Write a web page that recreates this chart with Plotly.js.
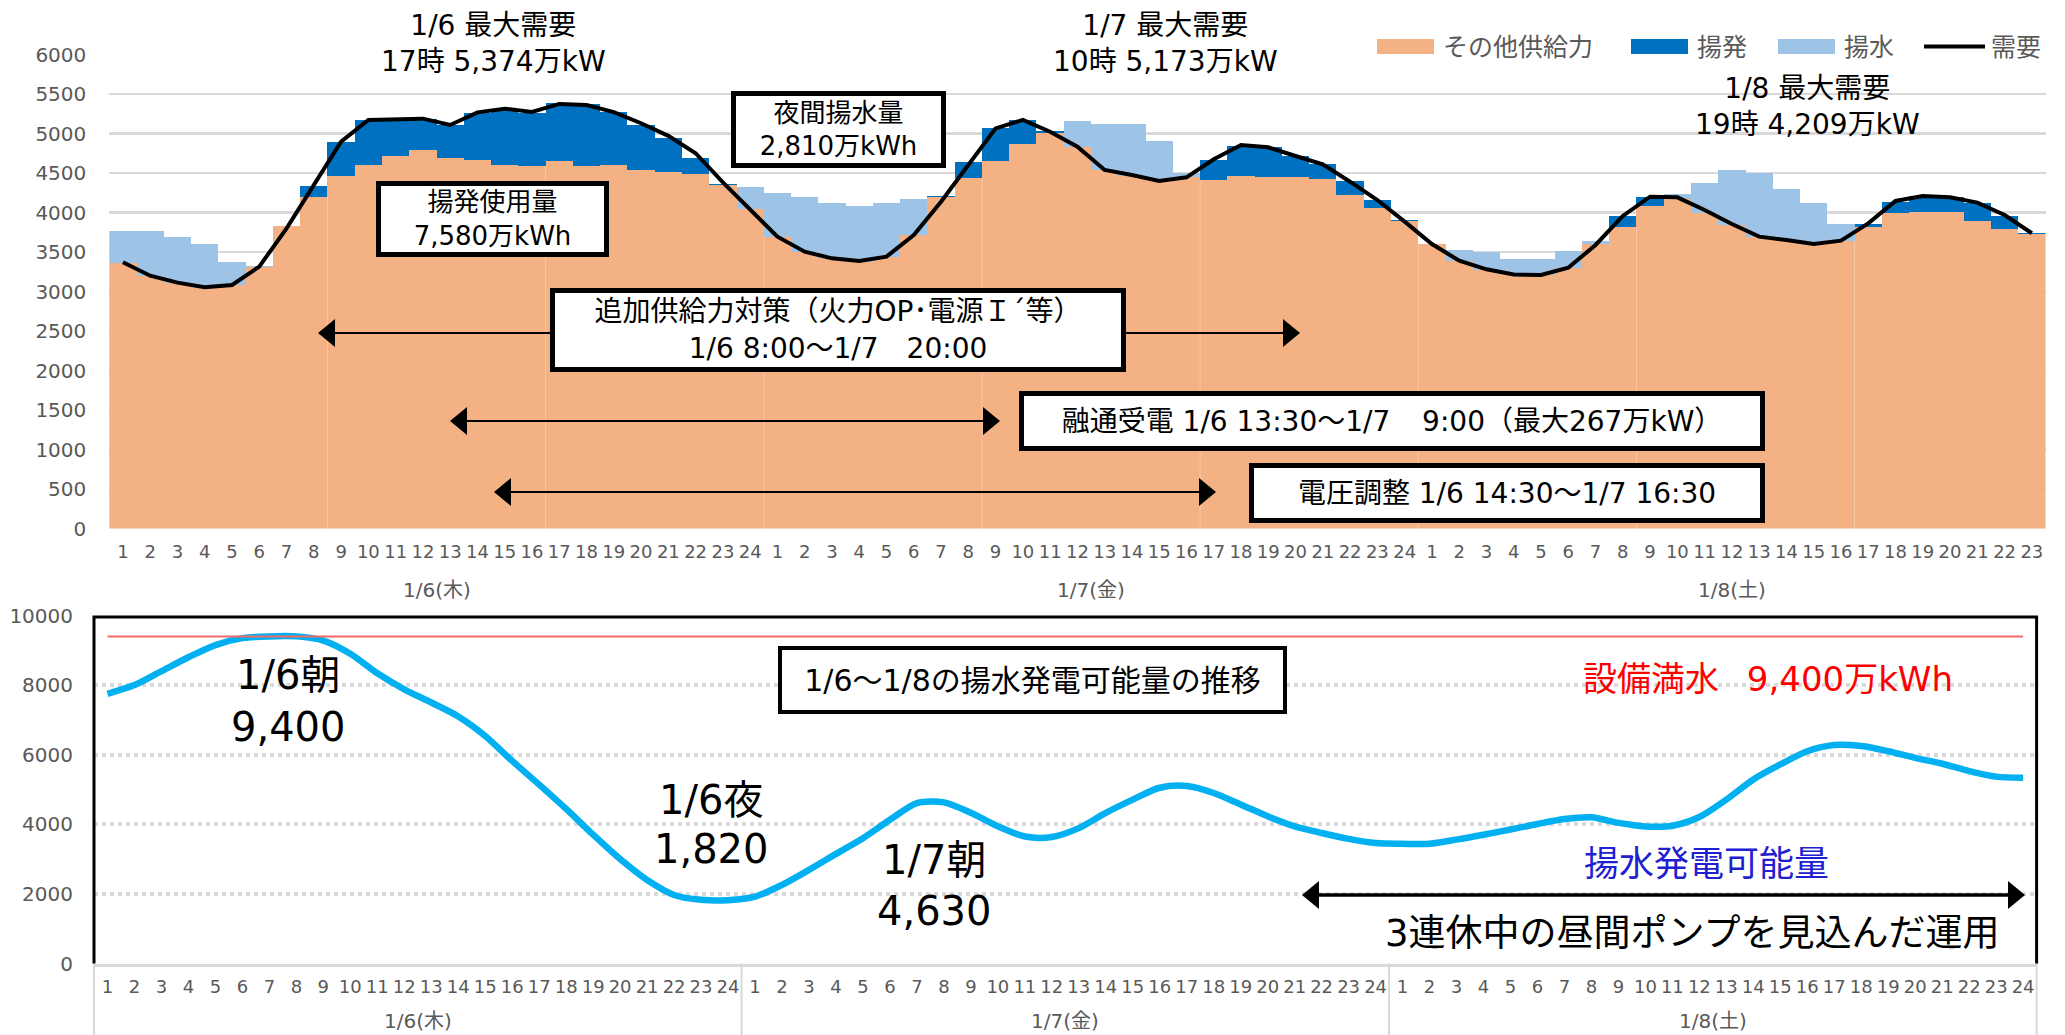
<!DOCTYPE html>
<html>
<head>
<meta charset="utf-8">
<script src="https://cdn.plot.ly/plotly-3.0.1.min.js"></script>
<style>
  html, body { margin: 0; padding: 0; background: #fff; }
  #chart { width: 2065px; height: 1035px; }
</style>
</head>
<body>
<div id="chart"></div>
<script>
// ---- categories ----
const dayLabels = ['1/6(木)', '1/7(金)', '1/8(土)'];
const hourLabels = ['1','2','3','4','5','6','7','8','9','10','11','12','13','14','15','16','17','18','19','20','21','22','23','24'];
const hoursPerDayTop = [24, 24, 23];
const hoursPerDayBottom = [24, 24, 24];

// ---- supply / demand (万kW), hourly 1/6 1時 … 1/8 23時 ----
const otherSupply = [
  3365, 3190, 3105, 3045, 3080, 3315, 3825, 4200, 4460, 4605, 4710, 4795, 4695, 4665, 4600, 4595, 4655, 4595, 4600, 4535, 4515, 4490, 4350, 4040,
  3686, 3504, 3420, 3378, 3441, 3715, 4200, 4441, 4656, 4867, 5011, 4833, 4538, 4462, 4411, 4445, 4411, 4462, 4454, 4445, 4428, 4222, 4061, 3893,
  3597, 3390, 3272, 3222, 3209, 3295, 3601, 3812, 4082, 4167, 3998, 3842, 3686, 3652, 3610, 3644, 3812, 3990, 4002, 4002, 3893, 3787, 3724
];
const pumpGeneration = [
  0, 0, 0, 0, 0, 0, 10, 140, 437, 560, 470, 393, 413, 590, 706, 669, 727, 779, 670, 575, 425, 196, 10, 0,
  0, 0, 0, 0, 0, 0, 13, 203, 409, 304, 15, 0, 0, 0, 0, 0, 254, 380, 371, 274, 186, 177, 97, 12,
  0, 0, 0, 0, 0, 0, 0, 148, 110, 0, 0, 0, 0, 0, 0, 0, 38, 147, 211, 190, 223, 173, 21
];
const pumpingLoad = [
  400, 580, 590, 552, 289, 10, 0, 0, 0, 0, 0, 0, 0, 0, 0, 0, 0, 0, 0, 0, 0, 0, 0, 287,
  557, 688, 705, 709, 675, 452, 0, 0, 0, 0, 0, 327, 582, 658, 498, 51, 0, 0, 0, 0, 0, 0, 0, 0,
  0, 136, 228, 185, 198, 218, 43, 0, 0, 63, 371, 696, 810, 650, 515, 206, 0, 0, 0, 0, 0, 0, 0
];
const demand = [
  3370, 3200, 3112, 3053, 3082, 3315, 3800, 4350, 4897, 5171, 5179, 5188, 5108, 5268, 5314, 5272, 5374, 5360, 5270, 5130, 4970, 4750, 4380, 4035,
  3694, 3504, 3420, 3386, 3441, 3715, 4137, 4601, 5065, 5173, 5023, 4833, 4538, 4475, 4399, 4445, 4673, 4854, 4825, 4715, 4610, 4390, 4158, 3884,
  3601, 3390, 3281, 3215, 3209, 3300, 3589, 3956, 4200, 4192, 4032, 3855, 3694, 3652, 3601, 3644, 3863, 4146, 4209, 4192, 4125, 3968, 3737
];

// ---- pumped-storage generable energy (万kWh), 1/6 1時 … 1/8 24時 ----
const pumpedStorageEnergy = [
  7750, 8000, 8400, 8800, 9150, 9350, 9400, 9400, 9280, 8900, 8340, 7880, 7500, 7100, 6540, 5820, 5140, 4440, 3700, 3000, 2400, 1970, 1830, 1820,
  1920, 2260, 2690, 3150, 3600, 4130, 4610, 4630, 4330, 3940, 3650, 3635, 3890, 4330, 4710, 5050, 5100, 4900, 4570, 4230, 3940, 3750, 3580, 3460,
  3440, 3440, 3560, 3700, 3850, 4010, 4150, 4200, 4040, 3940, 3960, 4210, 4710, 5290, 5720, 6100, 6280, 6250, 6100, 5910, 5740, 5530, 5370, 5340
];
const capacityFull = 9400;

// ---- helpers ----
const W = 2065, H = 1035;
const px = x => x / W;
const py = y => 1 - y / H;
const FONT = '"DejaVu Sans", "Noto Sans CJK JP", sans-serif';
const GRAY = '#595959';

// one category key per day/hour; the hour is shown as the tick text
function buildCats(counts) {
  const keys = [], text = [];
  counts.forEach((n, i) => { for (let j = 0; j < n; j++) { keys.push(dayLabels[i] + ' ' + hourLabels[j]); text.push(hourLabels[j]); } });
  return { keys, text };
}
const xTop = buildCats(hoursPerDayTop);
const xBottom = buildCats(hoursPerDayBottom);

// plot-area geometry (pixels)
const TOP = { x0: 109.3, x1: 2045.5, y0: 528.5, y1: 54.5 };
const BOT = { x0: 94, x1: 2036.6, y0: 963.5, y1: 615.5 };

const traces = [
  { type: 'bar', name: 'その他供給力', x: xTop.keys, y: otherSupply, xaxis: 'x', yaxis: 'y',
    marker: { color: '#F4B183', line: { width: 0 } }, hoverinfo: 'y', showlegend: false },
  { type: 'bar', name: '揚発', x: xTop.keys, y: pumpGeneration, xaxis: 'x', yaxis: 'y',
    marker: { color: '#0070C0', line: { width: 0 } }, hoverinfo: 'y', showlegend: false },
  { type: 'bar', name: '揚水', x: xTop.keys, y: pumpingLoad, xaxis: 'x', yaxis: 'y',
    marker: { color: '#9DC3E6', line: { width: 0 } }, hoverinfo: 'y', showlegend: false },
  { type: 'scatter', mode: 'lines', name: '需要', x: xTop.keys, y: demand, xaxis: 'x', yaxis: 'y',
    line: { color: '#000000', width: 4 }, showlegend: false },
  { type: 'scatter', mode: 'lines', name: '揚水発電可能量', x: xBottom.keys, y: pumpedStorageEnergy, xaxis: 'x2', yaxis: 'y2',
    line: { color: '#00B0F0', width: 6.5, shape: 'spline', smoothing: 0.8 }, showlegend: false },
  { type: 'scatter', mode: 'lines', name: '設備満水',
    x: [xBottom.keys[0], xBottom.keys[xBottom.keys.length - 1]], y: [capacityFull, capacityFull],
    xaxis: 'x2', yaxis: 'y2', line: { color: '#F26B6B', width: 2 }, showlegend: false }
];

// ---- shapes: legend swatches, arrows, frame, separators ----
const shapes = [];
function rectPx(x0, y0, x1, y1, color) {
  shapes.push({ type: 'rect', xref: 'paper', yref: 'paper', x0: px(x0), x1: px(x1), y0: py(y0), y1: py(y1),
    fillcolor: color, line: { width: 0 }, layer: 'above' });
}
function linePx(x0, y0, x1, y1, color, width) {
  shapes.push({ type: 'line', xref: 'paper', yref: 'paper', x0: px(x0), x1: px(x1), y0: py(y0), y1: py(y1),
    line: { color: color, width: width }, layer: 'above' });
}
function headPx(tx, ty, dir, len, half) {
  const bx = tx - dir * len;
  const p = `M ${px(tx)} ${py(ty)} L ${px(bx)} ${py(ty - half)} L ${px(bx)} ${py(ty + half)} Z`;
  shapes.push({ type: 'path', xref: 'paper', yref: 'paper', path: p, fillcolor: '#000', line: { width: 0 }, layer: 'above' });
}
function doubleArrow(xl, xr, y, lw) {
  linePx(xl + 10, y, xr - 10, y, '#000', lw);
  headPx(xl, y, -1, 17, 14);
  headPx(xr, y, 1, 17, 14);
}

// faint separators every 8 hours inside the area
const barW = (TOP.x1 - TOP.x0) / otherSupply.length;
for (let k = 8; k < otherSupply.length; k += 8) {
  const xp = px(TOP.x0 + barW * k);
  shapes.push({ type: 'line', xref: 'paper', yref: 'y', x0: xp, x1: xp, y0: 0,
    y1: Math.min(otherSupply[k - 1], otherSupply[k]), line: { color: 'rgba(255,255,255,0.3)', width: 1 }, layer: 'above' });
}

// day dividers under the lower axis
const catW = (BOT.x1 - BOT.x0) / pumpedStorageEnergy.length;
let start = 0;
[0].concat(hoursPerDayBottom).forEach(n => {
  start += n;
  linePx(BOT.x0 + catW * start, BOT.y0, BOT.x0 + catW * start, H, '#D9D9D9', 2);
});

// legend
rectPx(1377, 39, 1434, 54, '#F4B183');
rectPx(1631, 39, 1688, 54, '#0070C0');
rectPx(1778, 39, 1835, 54, '#9DC3E6');
linePx(1924, 46.5, 1985, 46.5, '#000', 4);

// period arrows (upper chart)
doubleArrow(318, 1300, 333, 2);
doubleArrow(450, 1000, 421, 2);
doubleArrow(494, 1216, 492, 2);
// period arrow (lower chart)
doubleArrow(1302, 2025, 895, 3.5);

// lower chart frame (left, top, right)
shapes.push({ type: 'path', xref: 'paper', yref: 'paper',
  path: `M ${px(BOT.x0)} ${py(BOT.y0)} L ${px(BOT.x0)} ${py(BOT.y1 + 1.5)} L ${px(BOT.x1)} ${py(BOT.y1 + 1.5)} L ${px(BOT.x1)} ${py(BOT.y0)}`,
  line: { color: '#000', width: 3 }, layer: 'above' });

// ---- annotations ----
const annotations = [];
function textPx(x, y, text, size, color, anchor) {
  annotations.push({ xref: 'paper', yref: 'paper', x: px(x), y: py(y), text: text, showarrow: false,
    xanchor: anchor || 'center', yanchor: 'middle', align: 'center',
    font: { family: FONT, size: size, color: color || '#000' } });
}
function boxPx(x0, y0, x1, y1, text, size, bw) {
  annotations.push({ xref: 'paper', yref: 'paper', x: px((x0 + x1) / 2), y: py((y0 + y1) / 2), text: text,
    showarrow: false, xanchor: 'center', yanchor: 'middle', align: 'center',
    width: x1 - x0 - bw, height: y1 - y0 - bw, borderpad: 0, borderwidth: bw, bordercolor: '#000', bgcolor: '#fff',
    font: { family: FONT, size: size, color: '#000' } });
}

// day labels under both hour axes
function dayLabelRow(counts, x0, w, y) {
  let s = 0;
  counts.forEach((n, i) => { textPx(x0 + w * (s + n / 2), y, dayLabels[i], 20, GRAY); s += n; });
}
dayLabelRow(hoursPerDayTop, TOP.x0, barW, 590);
dayLabelRow(hoursPerDayBottom, BOT.x0, catW, 1021);

// legend labels
textPx(1441, 47, 'その他供給力', 25, GRAY, 'left');
textPx(1695, 47, '揚発', 25, GRAY, 'left');
textPx(1842, 47, '揚水', 25, GRAY, 'left');
textPx(1989, 47, '需要', 25, GRAY, 'left');

// peak demand notes
textPx(493, 44, '1/6 最大需要<br>17時 5,374万kW', 28);
textPx(1165, 44, '1/7 最大需要<br>10時 5,173万kW', 28);
textPx(1807, 107, '1/8 最大需要<br>19時 4,209万kW', 28);

// boxed notes (upper chart)
boxPx(733, 93, 943, 165, '夜間揚水量<br>2,810万kWh', 26, 5);
boxPx(378, 183, 606, 254, '揚発使用量<br>7,580万kWh', 26, 5);
boxPx(552, 290, 1123, 369, '追加供給力対策（火力OP･電源Ｉ´等）<br>1/6 8:00～1/7\u300020:00', 28, 5);
boxPx(1021, 393, 1762, 448, '融通受電 1/6 13:30～1/7 \u2002 9:00（最大267万kW）', 28, 5);
boxPx(1251, 465, 1762, 520, '電圧調整 1/6 14:30～1/7 16:30', 28, 5);

// lower chart notes
boxPx(780, 648, 1285, 712, '1/6～1/8の揚水発電可能量の推移', 30, 4);
textPx(288, 675, '1/6朝', 40);
textPx(288, 727, '9,400', 40);
textPx(711, 800, '1/6夜', 40);
textPx(711, 849, '1,820', 40);
textPx(934, 860, '1/7朝', 40);
textPx(934, 911, '4,630', 40);
textPx(1768, 679, '設備満水\u2002 9,400万kWh', 34, '#FF0000');
textPx(1706, 864, '揚水発電可能量', 35, '#2020D0');
textPx(1692, 933, '3連休中の昼間ポンプを見込んだ運用', 37, '#000');

const layout = {
  width: W, height: H,
  margin: { l: 0, r: 0, t: 0, b: 0 },
  paper_bgcolor: '#ffffff', plot_bgcolor: 'rgba(0,0,0,0)',
  font: { family: FONT, color: GRAY },
  barmode: 'stack', bargap: 0,
  showlegend: false,
  xaxis: {
    type: 'category', domain: [px(TOP.x0), px(TOP.x1)], anchor: 'y',
    range: [-0.5, otherSupply.length - 0.5],
    tickmode: 'array', tickvals: xTop.keys, ticktext: xTop.text,
    showgrid: false, showline: false, zeroline: false, ticks: '', tickangle: 0,
    ticklabelstandoff: 10,
    tickfont: { family: FONT, size: 18, color: GRAY }
  },
  yaxis: {
    domain: [py(TOP.y0), py(TOP.y1)], anchor: 'x',
    range: [0, 6000], tick0: 0, dtick: 500, tickformat: 'd',
    gridcolor: '#D9D9D9', gridwidth: 2.5, zeroline: false, showline: false,
    ticklabelstandoff: 22,
    tickfont: { family: FONT, size: 20, color: GRAY }
  },
  xaxis2: {
    type: 'category', domain: [px(BOT.x0), px(BOT.x1)], anchor: 'y2',
    range: [-0.5, pumpedStorageEnergy.length - 0.5],
    tickmode: 'array', tickvals: xBottom.keys, ticktext: xBottom.text,
    showgrid: false, zeroline: false, ticks: '', tickangle: 0,
    showline: true, linecolor: '#D9D9D9', linewidth: 3,
    ticklabelstandoff: 5,
    tickfont: { family: FONT, size: 18, color: GRAY }
  },
  yaxis2: {
    domain: [py(BOT.y0), py(BOT.y1)], anchor: 'x2',
    range: [0, 10000], tick0: 0, dtick: 2000, tickformat: 'd',
    gridcolor: '#D9D9D9', gridwidth: 4, griddash: 'dot', zeroline: false, showline: false,
    ticklabelstandoff: 20,
    tickfont: { family: FONT, size: 20, color: GRAY }
  },
  shapes: shapes,
  annotations: annotations
};

Plotly.newPlot('chart', traces, layout, { staticPlot: true, displayModeBar: false });
</script>
</body>
</html>
